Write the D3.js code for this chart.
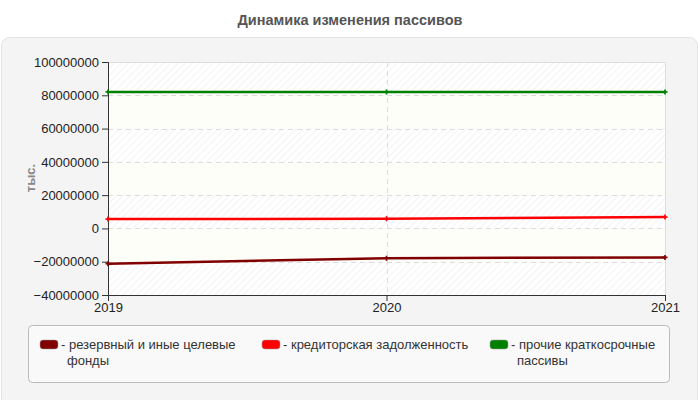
<!DOCTYPE html>
<html>
<head>
<meta charset="utf-8">
<script src="https://cdn.jsdelivr.net/npm/d3@7"></script>
<style>
  body { margin: 0; background: #fff; }
  svg { display: block; font-family: "Liberation Sans", Arial, sans-serif; }
</style>
</head>
<body>
<svg id="chart" width="700" height="400"></svg>
<script>
// Chart data
const years = ["2019", "2020", "2021"];
const seriesNames = ["резервный и иные целевые фонды", "кредиторская задолженность", "прочие краткосрочные пассивы"];
const reserveFunds = [-21200000, -17900000, -17400000];
const payables = [5600000, 5800000, 6800000];
const otherShortTerm = [82000000, 82000000, 82000000];
const yTicks = [-40000000, -20000000, 0, 20000000, 40000000, 60000000, 80000000, 100000000];
const colors = ["#800000", "#ff0000", "#008000"];

const svg = d3.select("#chart");
const margin = { left: 108, right: 35, top: 62, bottom: 105 };
const width = 700, height = 400;

// Outer panel
svg.append("rect")
    .attr("x", 1.5).attr("y", 37.5)
    .attr("width", 696).attr("height", 370)
    .attr("rx", 8)
    .style("fill", "#f4f4f4")
    .style("stroke", "#e4e4e4");

// Title
svg.append("text")
    .attr("x", 350).attr("y", 25)
    .attr("text-anchor", "middle")
    .style("font-size", "14.5px")
    .style("font-weight", "bold")
    .style("fill", "#555")
    .text("Динамика изменения пассивов");

const x = d3.scalePoint().domain(years).range([margin.left, width - margin.right]);
const y = d3.scaleLinear().domain([-40000000, 100000000]).range([height - margin.bottom, margin.top]);

// Hatch pattern for alternating bands
const defs = svg.append("defs");
const pat = defs.append("pattern")
    .attr("id", "hatch")
    .attr("patternUnits", "userSpaceOnUse")
    .attr("width", 5).attr("height", 5)
    .attr("patternTransform", "rotate(45)");
pat.append("rect").attr("width", 5).attr("height", 5).style("fill", "#fff");
pat.append("line")
    .attr("x1", 0).attr("y1", 0).attr("x2", 0).attr("y2", 5)
    .style("stroke", "#ececec").style("stroke-width", 1.2);

// Bands between gridlines
for (let i = 0; i < yTicks.length - 1; i++) {
    const fromTop = yTicks.length - 2 - i; // band index counted from top
    svg.append("rect")
        .attr("x", margin.left)
        .attr("y", y(yTicks[i + 1]))
        .attr("width", x.range()[1] - margin.left)
        .attr("height", y(yTicks[i]) - y(yTicks[i + 1]))
        .style("fill", fromTop % 2 === 0 ? "url(#hatch)" : "#fefef8");
}

// Plot frame (top and right)
svg.append("path")
    .attr("d", `M${margin.left},${margin.top + 0.5}H${width - margin.right + 0.5}V${height - margin.bottom}`)
    .style("fill", "none")
    .style("stroke", "#ddd");

// Horizontal gridlines
svg.append("g").selectAll("line")
    .data(yTicks.filter(t => t > -40000000 && t < 100000000))
    .enter().append("line")
    .attr("x1", margin.left).attr("x2", width - margin.right)
    .attr("y1", d => Math.round(y(d)) + 0.5).attr("y2", d => Math.round(y(d)) + 0.5)
    .style("stroke", "#ddd")
    .style("stroke-dasharray", "5,4");

// Vertical gridline at middle year
svg.append("line")
    .attr("x1", Math.round(x("2020")) + 0.5).attr("x2", Math.round(x("2020")) + 0.5)
    .attr("y1", margin.top).attr("y2", height - margin.bottom)
    .style("stroke", "#ddd")
    .style("stroke-dasharray", "5,4");

// Axes
const yAxis = svg.append("g")
    .attr("transform", `translate(${margin.left},0)`)
    .call(d3.axisLeft(y).tickValues(yTicks).tickFormat(d3.format("d")).tickSize(6).tickPadding(3));
const xAxis = svg.append("g")
    .attr("transform", `translate(0,${height - margin.bottom})`)
    .call(d3.axisBottom(x).tickSize(6).tickPadding(2));
[yAxis, xAxis].forEach(a => {
    a.select(".domain").style("stroke", "#333");
    a.selectAll(".tick line").style("stroke", "#333");
    a.selectAll("text").style("font-size", "13px").style("fill", "#222")
        .style("font-family", "'Liberation Sans', Arial, sans-serif");
});

// Y axis label
svg.append("text")
    .attr("transform", "translate(35,178) rotate(-90)")
    .attr("text-anchor", "middle")
    .style("font-size", "13px")
    .style("font-weight", "bold")
    .style("fill", "#888")
    .text("тыс.");

// Lines
const series = [reserveFunds, payables, otherShortTerm];
series.forEach((vals, k) => {
    svg.append("path")
        .datum(vals)
        .attr("d", d3.line().x((d, i) => x(years[i])).y(d => y(d)))
        .style("fill", "none")
        .style("stroke", colors[k])
        .style("stroke-width", 2.5);
    svg.append("g").selectAll("path")
        .data(vals)
        .enter().append("path")
        .attr("d", d3.symbol(d3.symbolCross, 14))
        .attr("transform", (d, i) => `translate(${x(years[i])},${y(d)})`)
        .style("fill", colors[k]);
});

// Legend
svg.append("rect")
    .attr("x", 28.5).attr("y", 325.5)
    .attr("width", 641).attr("height", 57)
    .attr("rx", 4)
    .style("fill", "#f9f9f9")
    .style("stroke", "#bbb");

const legendX = [40, 262, 490];
const legendLines = [["резервный и иные целевые", "фонды"], ["кредиторская задолженность"], ["прочие краткосрочные", "пассивы"]];
legendLines.forEach((lines, k) => {
    const g = svg.append("g").attr("transform", `translate(${legendX[k]},340)`);
    g.append("rect")
        .attr("x", 0).attr("y", 0)
        .attr("width", 18).attr("height", 9)
        .attr("rx", 3)
        .style("fill", colors[k])
        .style("stroke", "#999")
        .style("stroke-width", 0.5);
    const t = g.append("text")
        .attr("x", 21).attr("y", 9)
        .style("font-size", "13px")
        .style("fill", "#333");
    lines.forEach((s, j) => {
        t.append("tspan")
            .attr("x", j === 0 ? 21 : 27)
            .attr("dy", j === 0 ? 0 : 16)
            .text(j === 0 ? "- " + s : s);
    });
});
</script>
</body>
</html>
